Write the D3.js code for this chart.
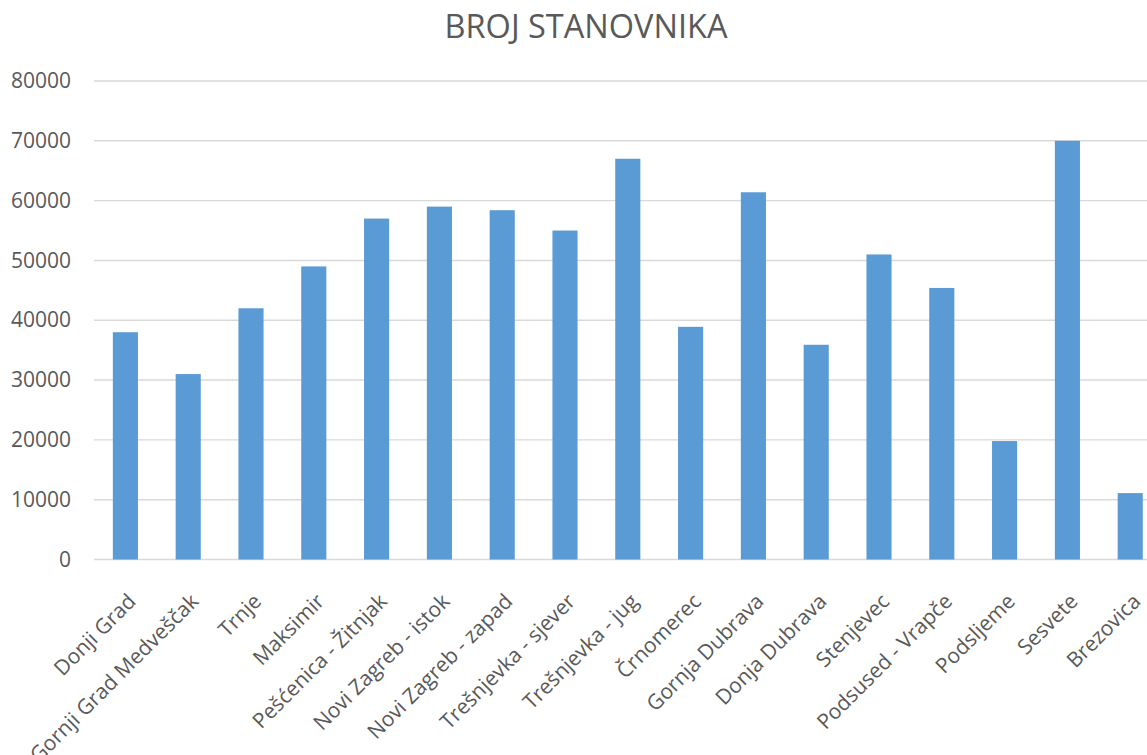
<!DOCTYPE html>
<html>
<head>
<meta charset="utf-8">
<script src="https://cdn.jsdelivr.net/npm/d3@7"></script>
<style>
  html, body { margin: 0; padding: 0; background: #fff; overflow: hidden; }
  svg { display: block; }
</style>
</head>
<body>
<svg id="chart" width="1147" height="755"></svg>
<script>
const chartTitle = "BROJ STANOVNIKA";
const categories = [
  "Donji Grad", "Gornji Grad Medveščak", "Trnje", "Maksimir", "Pešćenica - Žitnjak",
  "Novi Zagreb - istok", "Novi Zagreb - zapad", "Trešnjevka - sjever", "Trešnjevka - jug",
  "Črnomerec", "Gornja Dubrava", "Donja Dubrava", "Stenjevec", "Podsused - Vrapče",
  "Podsljeme", "Sesvete", "Brezovica"
];
const population = [
  38000, 31000, 42000, 49000, 57000,
  59000, 58400, 55000, 67000,
  38900, 61400, 35900, 51000, 45400,
  19800, 70000, 11100
];
const yTicks = [0, 10000, 20000, 30000, 40000, 50000, 60000, 70000, 80000];

const svg = d3.select("#chart");
const font = "'Open Sans', sans-serif";
const textColor = "#595959";

const plotLeft = 94, plotRight = 1161.6, plotTop = 81, plotBottom = 559.5;

const x = d3.scaleBand()
  .domain(categories)
  .range([plotLeft, plotRight])
  .paddingInner(0.6)
  .paddingOuter(0.3);

const y = d3.scaleLinear()
  .domain([0, 80000])
  .range([plotBottom, plotTop]);

// Title
svg.append("text")
  .attr("x", 586)
  .attr("y", 38)
  .attr("text-anchor", "middle")
  .attr("font-family", font)
  .attr("font-size", 32.5)
  .attr("fill", textColor)
  .text(chartTitle);

// Gridlines
svg.append("g")
  .selectAll("line")
  .data(yTicks)
  .join("line")
  .attr("x1", plotLeft)
  .attr("x2", plotRight)
  .attr("y1", d => y(d))
  .attr("y2", d => y(d))
  .attr("stroke", "#d9d9d9")
  .attr("stroke-width", 1.4);

// Y axis labels
const yAxis = d3.axisLeft(y).tickValues(yTicks).tickSize(0).tickPadding(0).tickFormat(d3.format("d"));
const yg = svg.append("g").attr("transform", `translate(71,0)`).call(yAxis);
yg.select(".domain").remove();
yg.selectAll("text")
  .attr("font-family", font)
  .attr("font-size", 21)
  .attr("fill", textColor);

// Bars
svg.append("g")
  .selectAll("rect")
  .data(categories.map((c, i) => ({ c, v: population[i] })))
  .join("rect")
  .attr("x", d => x(d.c))
  .attr("width", x.bandwidth())
  .attr("y", d => y(d.v))
  .attr("height", d => y(0) - y(d.v))
  .attr("fill", "#5b9bd5");

// Category labels
svg.append("g")
  .selectAll("text")
  .data(categories)
  .join("text")
  .attr("transform", d => `translate(${x(d) + x.bandwidth() / 2 + 1},592) rotate(-45)`)
  .attr("text-anchor", "end")
  .attr("dy", "0.72em")
  .attr("font-family", font)
  .attr("font-size", 21)
  .attr("fill", textColor)
  .text(d => d);
</script>
</body>
</html>
